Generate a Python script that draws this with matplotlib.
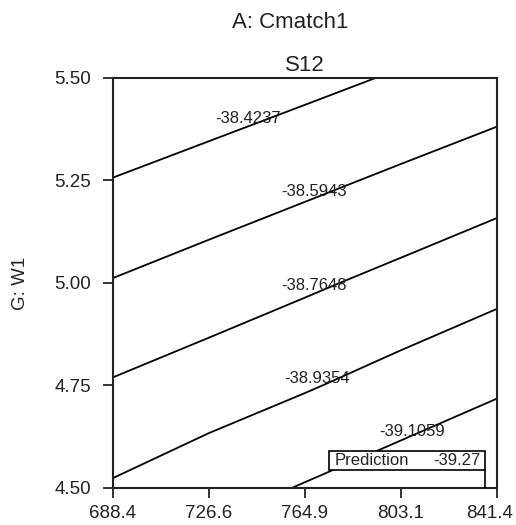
import numpy as np
import matplotlib
matplotlib.use("Agg")
import matplotlib.pyplot as plt
import matplotlib.transforms as mtransforms
from matplotlib.patches import Rectangle

# grid (x = A: Cmatch1, y = G: W1)
x_vals = [688.4, 726.6, 764.9, 803.1, 841.4]
y_vals = [4.50, 4.75, 5.00, 5.25, 5.50]
s12 = [
    [-38.9522, -39.0360, -39.1170, -39.1969, -39.2739],
    [-38.7788, -38.8481, -38.9209, -39.0005, -39.0812],
    [-38.6027, -38.6694, -38.7388, -38.8108, -38.8861],
    [-38.4286, -38.4914, -38.5562, -38.6237, -38.6947],
    [-38.2540, -38.3145, -38.3766, -38.4405, -38.5034],
]
levels = [-39.1059, -38.9354, -38.7648, -38.5943, -38.4237]
x_ticks = [688.4, 726.6, 764.9, 803.1, 841.4]
y_ticks = [4.50, 4.75, 5.00, 5.25, 5.50]
pred_x, pred_y, pred_val = 836.6, 4.50, -39.27

plt.rcParams['font.family'] = ['Liberation Sans', 'DejaVu Sans']
ink = '#222222'

fig = plt.figure(figsize=(5.16, 5.25), dpi=100)
ax = fig.add_axes([0.219, 0.0705, 0.744, 0.781])

X, Y = np.meshgrid(x_vals, y_vals)
cs = ax.contour(X, Y, np.array(s12), levels=levels, colors='black',
                linewidths=1.3, linestyles='solid')

# label spots (data coords), text drawn flat like the original
label_pos = {
    -38.4237: (742.2, 5.402),
    -38.5943: (768.5, 5.224),
    -38.7648: (768.5, 4.995),
    -38.9354: (769.7, 4.766),
    -39.1059: (807.5, 4.637),
}
for lev in cs.levels:
    px, py = label_pos[round(lev, 4)]
    ax.text(px, py, f"{lev:.4f}", ha='center', va='center', fontsize=12, color=ink)

# prediction flag: white box with a stem down to the point
box_x0, box_x1, box_y0, box_y1 = 774.6, pred_x, 4.544, 4.590
ax.add_patch(Rectangle((box_x0, box_y0), box_x1 - box_x0, box_y1 - box_y0,
                       fc='white', ec='black', lw=1.2, zorder=3))
ax.plot([pred_x, pred_x], [pred_y, box_y0], color='black', lw=1.2, zorder=3)
ax.text(box_x0 + 2.2, (box_y0 + box_y1) / 2, "Prediction", ha='left', va='center',
        fontsize=12, color=ink, zorder=4)
ax.text(box_x1 - 1.8, (box_y0 + box_y1) / 2, f"{pred_val:.2f}", ha='right', va='center',
        fontsize=12, color=ink, zorder=4)

ax.set_xlim(688.4, 841.4)
ax.set_ylim(4.5, 5.5)
ax.set_xticks(x_ticks)
ax.set_xticklabels([f"{v:.1f}" for v in x_ticks])
ax.set_yticks(y_ticks)
ax.set_yticklabels([f"{v:.2f}" for v in y_ticks])
ax.tick_params(direction='out', length=7, width=1.3, labelsize=13.5, colors=ink)
ax.tick_params(axis='y', pad=9)
ax.tick_params(axis='x', pad=5)
last = ax.get_xticklabels()[-1]
last.set_transform(last.get_transform() + mtransforms.ScaledTranslation(-0.07, 0, fig.dpi_scale_trans))
for sp in ax.spines.values():
    sp.set_linewidth(1.5)
    sp.set_color(ink)

ax.set_title("S12", fontsize=16, pad=5, color=ink)
fig.text(290 / 516, 1 - 22 / 525, "A: Cmatch1", ha='center', va='center', fontsize=16, color=ink)
ax.set_ylabel("G: W1", fontsize=13.5, color=ink, labelpad=18)

fig.savefig("out.png", dpi=100)
